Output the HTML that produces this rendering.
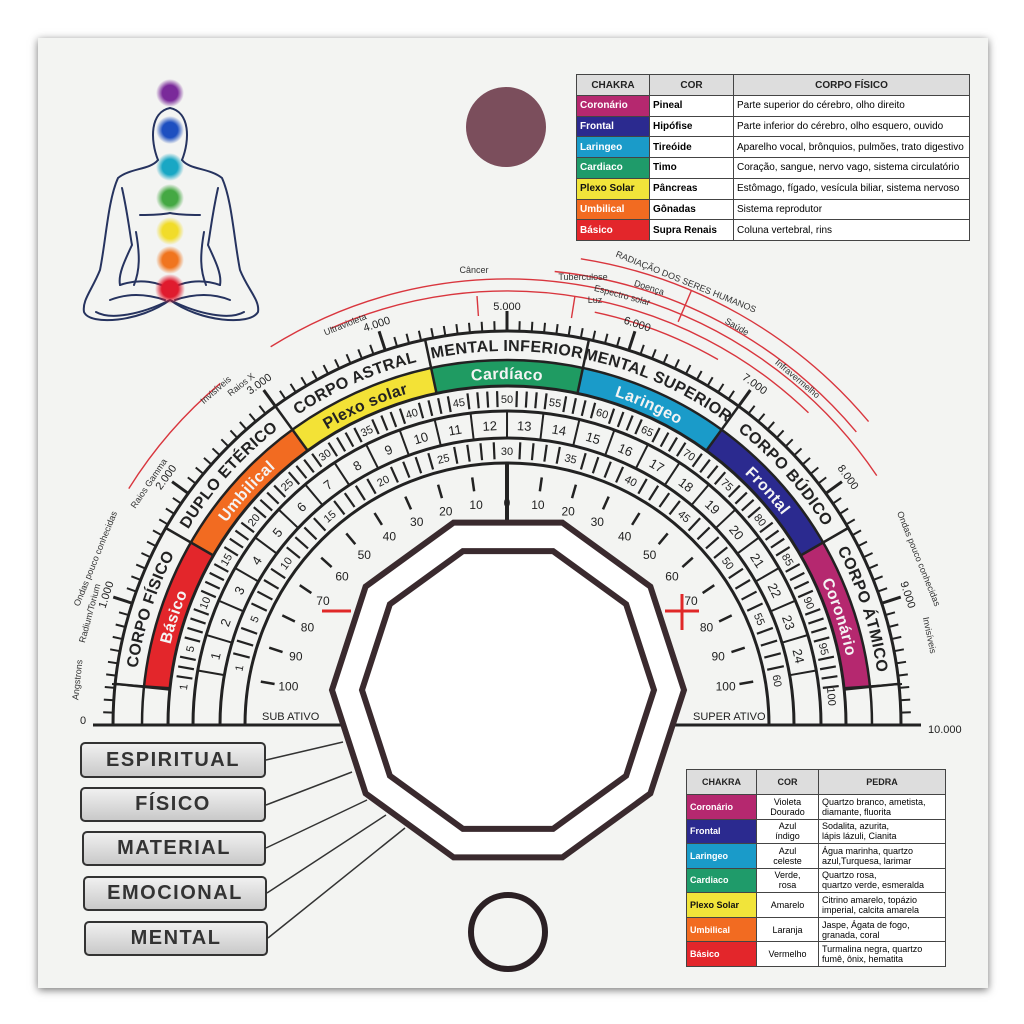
<!DOCTYPE html>
<html><head><meta charset="utf-8">
<style>
html,body{margin:0;padding:0;background:#fff;}
#wrap{position:relative;width:1024px;height:1024px;overflow:hidden;background:#fff;}
#card{position:absolute;left:38px;top:38px;width:950px;height:950px;background:#f3f4f2;box-shadow:0 2px 8px rgba(0,0,0,.55);}
svg{position:absolute;left:0;top:0;}
text{font-family:"Liberation Sans",sans-serif;}
.tb{position:absolute;border-collapse:collapse;font-family:"Liberation Sans",sans-serif;background:#fff;}
.tb td{border:1.5px solid #444;padding:0 3px;white-space:nowrap;overflow:hidden;}
.tb tr.h td{background:#ddd;font-weight:bold;text-align:center;color:#222;}
.c{color:#fff;font-weight:bold;}
.bx{position:absolute;width:182px;height:33px;border:2px solid #333;border-radius:5px;background:linear-gradient(#f0f0f0,#c9c9c9);font:bold 20px "Liberation Sans",sans-serif;color:#333;text-align:center;line-height:33px;letter-spacing:1.5px;box-sizing:border-box;}
</style></head><body><div id="wrap"><div id="card"></div>

<table class="tb" style="left:576px;top:74px;width:394px;height:167px;font-size:10px;">
<tr class="h" style="height:21px"><td style="width:66px">CHAKRA</td><td style="width:77px">COR</td><td>CORPO FÍSICO</td></tr>
<tr><td class="c" style="background:#b5286f">Coronário</td><td><b>Pineal</b></td><td>Parte superior do cérebro, olho direito</td></tr>
<tr><td class="c" style="background:#2b2a8f">Frontal</td><td><b>Hipófise</b></td><td>Parte inferior do cérebro, olho esquero, ouvido</td></tr>
<tr><td class="c" style="background:#1a9bc9">Laringeo</td><td><b>Tireóide</b></td><td>Aparelho vocal, brônquios, pulmões, trato digestivo</td></tr>
<tr><td class="c" style="background:#1f9b6a">Cardiaco</td><td><b>Timo</b></td><td>Coração, sangue, nervo vago, sistema circulatório</td></tr>
<tr><td class="c" style="background:#f1e43a;color:#111">Plexo Solar</td><td><b>Pâncreas</b></td><td>Estômago, fígado, vesícula biliar, sistema nervoso</td></tr>
<tr><td class="c" style="background:#f26b21">Umbilical</td><td><b>Gônadas</b></td><td>Sistema reprodutor</td></tr>
<tr><td class="c" style="background:#e3262b">Básico</td><td><b>Supra Renais</b></td><td>Coluna vertebral, rins</td></tr>
</table>

<table class="tb" style="left:686px;top:769px;width:260px;height:198px;font-size:9px;line-height:10px;">
<tr class="h" style="height:25px"><td style="width:63px">CHAKRA</td><td style="width:55px">COR</td><td>PEDRA</td></tr>
<tr><td class="c" style="background:#b5286f">Coronário</td><td style="text-align:center">Violeta<br>Dourado</td><td>Quartzo branco, ametista,<br>diamante, fluorita</td></tr>
<tr><td class="c" style="background:#2b2a8f">Frontal</td><td style="text-align:center">Azul<br>índigo</td><td>Sodalita, azurita,<br>lápis lázuli, Cianita</td></tr>
<tr><td class="c" style="background:#1a9bc9">Laringeo</td><td style="text-align:center">Azul<br>celeste</td><td>Água marinha, quartzo<br>azul,Turquesa, larimar</td></tr>
<tr><td class="c" style="background:#1f9b6a">Cardiaco</td><td style="text-align:center">Verde,<br>rosa</td><td>Quartzo rosa,<br>quartzo verde, esmeralda</td></tr>
<tr><td class="c" style="background:#f1e43a;color:#111">Plexo Solar</td><td style="text-align:center">Amarelo</td><td>Citrino amarelo, topázio<br>imperial, calcita amarela</td></tr>
<tr><td class="c" style="background:#f26b21">Umbilical</td><td style="text-align:center">Laranja</td><td>Jaspe, Ágata de fogo,<br>granada, coral</td></tr>
<tr><td class="c" style="background:#e3262b">Básico</td><td style="text-align:center">Vermelho</td><td>Turmalina negra, quartzo<br>fumê, ônix, hematita</td></tr>
</table>

<div class="bx" style="left:80px;top:742px;width:186px;height:36px;line-height:32px">ESPIRITUAL</div>
<div class="bx" style="left:80px;top:787px;width:186px;height:35px;line-height:31px">FÍSICO</div>
<div class="bx" style="left:82px;top:831px;width:184px;height:35px;line-height:31px">MATERIAL</div>
<div class="bx" style="left:83px;top:876px;width:184px;height:35px;line-height:31px">EMOCIONAL</div>
<div class="bx" style="left:84px;top:921px;width:184px;height:35px;line-height:31px">MENTAL</div>

<svg id="s" width="1024" height="1024" viewBox="0 0 1024 1024">
<defs>
<path id="pL" d="M 127 725 A 380 380 0 0 1 887 725" fill="none"/>
<path id="pC" d="M 155 725 A 352 352 0 0 1 859 725" fill="none"/>
<radialGradient id="g1"><stop offset="0.55" stop-color="#7a2a9a"/><stop offset="1" stop-color="#7a2a9a" stop-opacity="0"/></radialGradient>
<radialGradient id="g2"><stop offset="0.55" stop-color="#1d4fc0"/><stop offset="1" stop-color="#1d4fc0" stop-opacity="0"/></radialGradient>
<radialGradient id="g3"><stop offset="0.55" stop-color="#19a7c4"/><stop offset="1" stop-color="#19a7c4" stop-opacity="0"/></radialGradient>
<radialGradient id="g4"><stop offset="0.55" stop-color="#45a843"/><stop offset="1" stop-color="#45a843" stop-opacity="0"/></radialGradient>
<radialGradient id="g5"><stop offset="0.55" stop-color="#f1dc2a"/><stop offset="1" stop-color="#f1dc2a" stop-opacity="0"/></radialGradient>
<radialGradient id="g6"><stop offset="0.55" stop-color="#f0751f"/><stop offset="1" stop-color="#f0751f" stop-opacity="0"/></radialGradient>
<radialGradient id="g7"><stop offset="0.55" stop-color="#e01b2e"/><stop offset="1" stop-color="#e01b2e" stop-opacity="0"/></radialGradient>
</defs>

<g fill="none" stroke="#26335f" stroke-width="2" stroke-linecap="round">
<path d="M158 160 C150 140 150 112 170 108 C190 112 190 140 182 160"/>
<path d="M158 160 C150 170 130 168 118 178 C108 200 106 240 100 270 C92 290 82 300 84 312 C90 326 140 322 170 300 C200 322 250 326 258 312 C260 300 248 290 240 270 C234 240 232 200 222 178 C210 168 190 170 182 160"/>
<path d="M122 188 C128 215 130 235 132 245 C124 262 118 275 120 285"/>
<path d="M218 188 C212 215 210 235 208 245 C216 262 222 275 220 285"/>
<path d="M140 215 C150 215 160 215 170 213 C180 215 190 215 200 215"/>
<path d="M136 232 C140 255 140 270 134 285 M204 232 C200 255 200 270 206 285"/>
<path d="M120 285 C140 278 160 282 170 290 C180 282 200 278 220 285"/>
<path d="M110 300 C130 292 150 295 165 300 M230 300 C210 292 190 295 175 300"/>
<path d="M96 312 C110 320 140 315 170 300 C200 315 230 320 244 312"/>
</g>
<g>
<circle cx="170" cy="93" r="14" fill="url(#g1)"/>
<circle cx="170" cy="130" r="14" fill="url(#g2)"/>
<circle cx="170" cy="167" r="14" fill="url(#g3)"/>
<circle cx="170" cy="198" r="14" fill="url(#g4)"/>
<circle cx="170" cy="231" r="14" fill="url(#g5)"/>
<circle cx="170" cy="260" r="14" fill="url(#g6)"/>
<circle cx="170" cy="289" r="15" fill="url(#g7)"/>
</g>

<circle cx="506" cy="127" r="40" fill="#7b4e5c"/>
<circle cx="508" cy="932" r="37" fill="none" stroke="#2b2024" stroke-width="6"/>

<g id="gen"></g>

<g font-weight="bold" font-size="16" fill="#222" letter-spacing="0.5">
<text dy="6"><textPath href="#pL" startOffset="10%" text-anchor="middle">CORPO FÍSICO</textPath></text>
<text dy="6"><textPath href="#pL" startOffset="23.3%" text-anchor="middle">DUPLO ETÉRICO</textPath></text>
<text dy="6"><textPath href="#pL" startOffset="36.7%" text-anchor="middle">CORPO ASTRAL</textPath></text>
<text dy="6"><textPath href="#pL" startOffset="50%" text-anchor="middle">MENTAL INFERIOR</textPath></text>
<text dy="6"><textPath href="#pL" startOffset="63.3%" text-anchor="middle">MENTAL SUPERIOR</textPath></text>
<text dy="6"><textPath href="#pL" startOffset="76.7%" text-anchor="middle">CORPO BÚDICO</textPath></text>
<text dy="6"><textPath href="#pL" startOffset="90%" text-anchor="middle">CORPO ÁTMICO</textPath></text>
</g>
<g font-weight="bold" font-size="16" fill="#f4f4f4" letter-spacing="0.5">
<text dy="6"><textPath href="#pC" startOffset="10%" text-anchor="middle">Básico</textPath></text>
<text dy="6"><textPath href="#pC" startOffset="23.3%" text-anchor="middle">Umbilical</textPath></text>
<text dy="6" fill="#222"><textPath href="#pC" startOffset="36.7%" text-anchor="middle">Plexo solar</textPath></text>
<text dy="6"><textPath href="#pC" startOffset="50%" text-anchor="middle">Cardíaco</textPath></text>
<text dy="6"><textPath href="#pC" startOffset="63.3%" text-anchor="middle">Laringeo</textPath></text>
<text dy="6"><textPath href="#pC" startOffset="76.7%" text-anchor="middle">Frontal</textPath></text>
<text dy="6"><textPath href="#pC" startOffset="90%" text-anchor="middle">Coronário</textPath></text>
</g>

<g font-size="11" fill="#222" text-anchor="middle">
<text x="507" y="403" transform="rotate(-83.3 507 725)">1</text>
<text x="507" y="403" transform="rotate(-76.5 507 725)">5</text>
<text x="507" y="403" transform="rotate(-68 507 725)">10</text>
<text x="507" y="403" transform="rotate(-59.5 507 725)">15</text>
<text x="507" y="403" transform="rotate(-51 507 725)">20</text>
<text x="507" y="403" transform="rotate(-42.5 507 725)">25</text>
<text x="507" y="403" transform="rotate(-34 507 725)">30</text>
<text x="507" y="403" transform="rotate(-25.5 507 725)">35</text>
<text x="507" y="403" transform="rotate(-17 507 725)">40</text>
<text x="507" y="403" transform="rotate(-8.5 507 725)">45</text>
<text x="507" y="403" transform="rotate(0 507 725)">50</text>
<text x="507" y="403" transform="rotate(8.5 507 725)">55</text>
<text x="507" y="403" transform="rotate(17 507 725)">60</text>
<text x="507" y="403" transform="rotate(25.5 507 725)">65</text>
<text x="507" y="403" transform="rotate(34 507 725)">70</text>
<text x="507" y="403" transform="rotate(42.5 507 725)">75</text>
<text x="507" y="403" transform="rotate(51 507 725)">80</text>
<text x="507" y="403" transform="rotate(59.5 507 725)">85</text>
<text x="507" y="403" transform="rotate(68 507 725)">90</text>
<text x="507" y="403" transform="rotate(76.5 507 725)">95</text>
<text x="507" y="403" transform="rotate(85 507 725)">100</text>
</g>
<g font-size="13" fill="#222" text-anchor="middle">
<text x="507" y="430" transform="rotate(-76.7 507 725)">1</text>
<text x="507" y="430" transform="rotate(-70 507 725)">2</text>
<text x="507" y="430" transform="rotate(-63.3 507 725)">3</text>
<text x="507" y="430" transform="rotate(-56.7 507 725)">4</text>
<text x="507" y="430" transform="rotate(-50 507 725)">5</text>
<text x="507" y="430" transform="rotate(-43.3 507 725)">6</text>
<text x="507" y="430" transform="rotate(-36.7 507 725)">7</text>
<text x="507" y="430" transform="rotate(-30 507 725)">8</text>
<text x="507" y="430" transform="rotate(-23.3 507 725)">9</text>
<text x="507" y="430" transform="rotate(-16.7 507 725)">10</text>
<text x="507" y="430" transform="rotate(-10 507 725)">11</text>
<text x="507" y="430" transform="rotate(-3.3 507 725)">12</text>
<text x="507" y="430" transform="rotate(3.3 507 725)">13</text>
<text x="507" y="430" transform="rotate(10 507 725)">14</text>
<text x="507" y="430" transform="rotate(16.7 507 725)">15</text>
<text x="507" y="430" transform="rotate(23.3 507 725)">16</text>
<text x="507" y="430" transform="rotate(30 507 725)">17</text>
<text x="507" y="430" transform="rotate(36.7 507 725)">18</text>
<text x="507" y="430" transform="rotate(43.3 507 725)">19</text>
<text x="507" y="430" transform="rotate(50 507 725)">20</text>
<text x="507" y="430" transform="rotate(56.7 507 725)">21</text>
<text x="507" y="430" transform="rotate(63.3 507 725)">22</text>
<text x="507" y="430" transform="rotate(70 507 725)">23</text>
<text x="507" y="430" transform="rotate(76.7 507 725)">24</text>
</g>
<g font-size="11" fill="#222" text-anchor="middle">
<text x="507" y="455" transform="rotate(-78 507 725)">1</text>
<text x="507" y="455" transform="rotate(-67.25 507 725)">5</text>
<text x="507" y="455" transform="rotate(-53.8 507 725)">10</text>
<text x="507" y="455" transform="rotate(-40.35 507 725)">15</text>
<text x="507" y="455" transform="rotate(-26.9 507 725)">20</text>
<text x="507" y="455" transform="rotate(-13.45 507 725)">25</text>
<text x="507" y="455" transform="rotate(0 507 725)">30</text>
<text x="507" y="455" transform="rotate(13.45 507 725)">35</text>
<text x="507" y="455" transform="rotate(26.9 507 725)">40</text>
<text x="507" y="455" transform="rotate(40.35 507 725)">45</text>
<text x="507" y="455" transform="rotate(53.8 507 725)">50</text>
<text x="507" y="455" transform="rotate(67.25 507 725)">55</text>
<text x="507" y="455" transform="rotate(80.7 507 725)">60</text>
</g>
<g font-size="12" fill="#222" text-anchor="middle">
<text x="507" y="507" transform="rotate(0 507 725) rotate(0 507 503)">0</text>
<text x="507" y="507" transform="rotate(-8 507 725) rotate(8 507 503)">10</text>
<text x="507" y="507" transform="rotate(-16 507 725) rotate(16 507 503)">20</text>
<text x="507" y="507" transform="rotate(-24 507 725) rotate(24 507 503)">30</text>
<text x="507" y="507" transform="rotate(-32 507 725) rotate(32 507 503)">40</text>
<text x="507" y="507" transform="rotate(-40 507 725) rotate(40 507 503)">50</text>
<text x="507" y="507" transform="rotate(-48 507 725) rotate(48 507 503)">60</text>
<text x="507" y="507" transform="rotate(-56 507 725) rotate(56 507 503)">70</text>
<text x="507" y="507" transform="rotate(-64 507 725) rotate(64 507 503)">80</text>
<text x="507" y="507" transform="rotate(-72 507 725) rotate(72 507 503)">90</text>
<text x="507" y="507" transform="rotate(-80 507 725) rotate(80 507 503)">100</text>
<text x="507" y="507" transform="rotate(8 507 725) rotate(-8 507 503)">10</text>
<text x="507" y="507" transform="rotate(16 507 725) rotate(-16 507 503)">20</text>
<text x="507" y="507" transform="rotate(24 507 725) rotate(-24 507 503)">30</text>
<text x="507" y="507" transform="rotate(32 507 725) rotate(-32 507 503)">40</text>
<text x="507" y="507" transform="rotate(40 507 725) rotate(-40 507 503)">50</text>
<text x="507" y="507" transform="rotate(48 507 725) rotate(-48 507 503)">60</text>
<text x="507" y="507" transform="rotate(56 507 725) rotate(-56 507 503)">70</text>
<text x="507" y="507" transform="rotate(64 507 725) rotate(-64 507 503)">80</text>
<text x="507" y="507" transform="rotate(72 507 725) rotate(-72 507 503)">90</text>
<text x="507" y="507" transform="rotate(80 507 725) rotate(-80 507 503)">100</text>
</g>
<g font-size="11" fill="#222" text-anchor="middle">
<text x="507" y="307" transform="rotate(-72 507 725)">1.000</text>
<text x="507" y="307" transform="rotate(-54 507 725)">2.000</text>
<text x="507" y="307" transform="rotate(-36 507 725)">3.000</text>
<text x="507" y="307" transform="rotate(-18 507 725)">4.000</text>
<text x="507" y="310">5.000</text>
<text x="507" y="307" transform="rotate(18 507 725)">6.000</text>
<text x="507" y="307" transform="rotate(36 507 725)">7.000</text>
<text x="507" y="307" transform="rotate(54 507 725)">8.000</text>
<text x="507" y="307" transform="rotate(72 507 725)">9.000</text>
</g>
<g font-size="9" fill="#333" text-anchor="middle">
<text x="507" y="296" transform="rotate(-84 507 725)">Angstrons</text>
<text x="507" y="296" transform="rotate(-75 507 725)">Radium/Torium</text>
<text x="507" y="284" transform="rotate(-68 507 725)">Ondas pouco conhecidas</text>
<text x="507" y="296" transform="rotate(-56 507 725)">Raios Gamma</text>
<text x="507" y="296" transform="rotate(-38 507 725)">Raios X</text>
<text x="507" y="284" transform="rotate(-41 507 725)">Invisíveis</text>
<text x="507" y="296" transform="rotate(-22 507 725)">Ultravioleta</text>
<text x="507" y="276" transform="rotate(40 507 725)">Infravermelho</text>
<text x="507" y="284" transform="rotate(68 507 725)">Ondas pouco conhecidas</text>
<text x="507" y="296" transform="rotate(78 507 725)">Invisíveis</text>
<text x="474" y="273">Câncer</text>
<text x="583" y="280">Tuberculose</text>
<text x="595" y="303">Luz</text>
<text x="507" y="283" transform="rotate(15 507 725)">Espectro solar</text>
<text x="507" y="268" transform="rotate(18 507 725)">Doença</text>
<text x="507" y="268" transform="rotate(30 507 725)">Saúde</text>
<text x="507" y="250" transform="rotate(22 507 725)">RADIAÇÃO DOS SERES HUMANOS</text>
</g>
<g font-size="11" fill="#222">
<text x="80" y="724">0</text>
<text x="928" y="733">10.000</text>
<text x="262" y="720">SUB ATIVO</text>
<text x="693" y="720">SUPER ATIVO</text>
</g>
<g stroke="#e02828" stroke-width="3">
<line x1="322" y1="611" x2="351" y2="611"/>
<line x1="665" y1="611" x2="699" y2="611"/><line x1="682" y1="594" x2="682" y2="630"/>
</g>
</svg>
<script>
(function(){
var ns="http://www.w3.org/2000/svg",g=document.getElementById("gen");
function P(r,f){var a=f*Math.PI/180;return [507+r*Math.sin(a),725-r*Math.cos(a)];}
function el(t,a){var e=document.createElementNS(ns,t);for(var k in a)e.setAttribute(k,a[k]);g.appendChild(e);return e;}
function ln(r1,r2,f,w,c){var a=P(r1,f),b=P(r2,f);el("line",{x1:a[0],y1:a[1],x2:b[0],y2:b[1],stroke:c||"#222","stroke-width":w||2});}
function arc(r,f1,f2){var a=P(r,f1),b=P(r,f2);return "M"+a[0]+" "+a[1]+" A"+r+" "+r+" 0 "+((f2-f1)>180?1:0)+" 1 "+b[0]+" "+b[1];}
var cols=["#e3262b","#f26b21","#f3e236","#1f9b62","#1a9bc9","#2b2a8f","#b5286f"];
for(var i=0;i<7;i++){el("path",{d:arc(352,-84+24*i,-60+24*i),stroke:cols[i],"stroke-width":26,fill:"none"});}
[[394,3],[365,2.5],[339,3],[314,3],[287,3],[262,3]].forEach(function(q){el("path",{d:arc(q[0],-90,90),stroke:"#222","stroke-width":q[1],fill:"none"});});
for(var i=0;i<8;i++){ln(339,394,-84+24*i,2.5);}
ln(339,394,-90,2.5);ln(339,394,90,2.5);
el("line",{x1:112,y1:684,x2:170,y2:688,stroke:"#222","stroke-width":2});
el("line",{x1:844,y1:688,x2:902,y2:684,stroke:"#222","stroke-width":2});
for(var k=0;k<=100;k++){var f=-90+1.8*k;var big=(k%10==0);ln(394,big?414:404,f,big?3:2);}
for(var v=2;v<100;v++){if(v%5==0)continue;ln(318,334,(v-50)*1.7,2.2);}
for(var i=0;i<=24;i++){ln(287,314,-80+6.667*i,2);}
ln(287,314,-90,2);ln(287,314,90,2);
for(var v=2;v<60;v++){if(v%5==0)continue;ln(266,283,(v-30)*2.69,2.2);}
ln(262,287,-90,2);ln(262,287,90,2);
for(var v=10;v<=100;v+=10){ln(236,250,-0.8*v,2.5);ln(236,250,0.8*v,2.5);}
el("line",{x1:507,y1:463,x2:507,y2:525,stroke:"#222","stroke-width":4});
el("line",{x1:108,y1:725,x2:912,y2:725,stroke:"#222","stroke-width":3});
function rarc(r,f1,f2){el("path",{d:arc(r,f1,f2),stroke:"#d9363e","stroke-width":1.4,fill:"none"});}
rarc(446,-58,-40);rarc(446,-32,56);rarc(434,-24,44);rarc(456,6,50);rarc(472,9,50);rarc(422,12,30);
[[-4,430,410],[9,434,412],[23,472,438]].forEach(function(q){ln(q[1],q[2],q[0],1.4,"#d9363e");});
function dec(R){var s="";for(var i=0;i<10;i++){var a=i*36*Math.PI/180;s+=(508+R*Math.cos(a))+","+(690-R*Math.sin(a))+" ";}return s;}
el("polygon",{points:dec(176),fill:"#fff",stroke:"#3a2a2e","stroke-width":6});
el("polygon",{points:dec(146),fill:"#fff",stroke:"#3a2a2e","stroke-width":6});
[[266,760,343,742],[266,805,352,772],[266,848,367,800],[267,893,386,815],[268,938,405,828]].forEach(function(q){el("line",{x1:q[0],y1:q[1],x2:q[2],y2:q[3],stroke:"#333","stroke-width":1.5});});
})();
</script>
</div></body></html>
